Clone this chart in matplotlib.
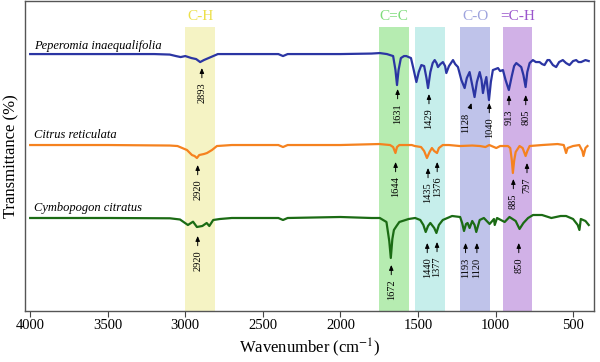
import numpy as np
import matplotlib
matplotlib.use("Agg")
import matplotlib.pyplot as plt

plt.rcParams['font.family'] = ['Liberation Serif', 'DejaVu Serif']
plt.rcParams['mathtext.fontset'] = 'stix'

"""Spectra (wavenumber in cm-1, transmittance in a.u.)"""
blue_wn = [4000, 3500, 3200, 3100, 3060, 3030, 3000, 2960, 2930, 2904, 2880, 2850, 2820, 2790, 2700,
           2400, 2370, 2340, 2000, 1800, 1746, 1700, 1660, 1645, 1635, 1625, 1610, 1590, 1575, 1545,
           1530, 1510, 1495, 1478, 1460, 1445, 1435, 1420, 1405, 1392, 1380, 1371, 1355, 1339, 1325,
           1317, 1300, 1274, 1260, 1242, 1220, 1199, 1185, 1167, 1150, 1135, 1120, 1102, 1090, 1081,
           1070, 1059, 1050, 1042, 1030, 1017, 1000, 984, 970, 952, 935, 914, 895, 880, 866,
           850, 834, 820, 806, 795, 780, 759, 740, 716, 700, 684, 665, 652, 630, 609,
           590, 566, 545, 523, 500, 480, 465, 448, 420, 399]
blue_t = [257, 257, 257, 256.5, 255, 254, 255, 253, 252, 249, 251, 253, 255, 257, 257,
          257, 255, 257, 257, 257.5, 258, 257, 255, 241, 226, 241, 253, 255, 255, 253,
          243, 229, 239, 246, 245, 233, 223, 239, 248, 251, 248, 244, 247, 249, 245,
          238, 245, 251, 247, 244, 231, 223, 233, 239, 226, 214, 229, 239, 231, 218,
          227, 234, 221, 211, 229, 241, 242, 243, 240, 241, 231, 221, 235, 245, 248,
          246, 244, 236, 224, 239, 248, 251, 249, 249, 247, 246, 251, 251, 246, 244,
          249, 251, 248, 246, 250, 251, 249, 249, 251, 250]

orange_wn = [4000, 3500, 3100, 3050, 2989, 2957, 2940, 2925, 2910, 2880, 2860, 2828, 2796, 2700,
             2400, 2370, 2340, 2000, 1750, 1680, 1660, 1645, 1635, 1620, 1540, 1520, 1480, 1460,
             1442, 1425, 1410, 1395, 1377, 1365, 1340, 1300, 1230, 1150, 1100, 1065, 1040, 995,
             970, 920, 905, 895, 888, 880, 870, 845, 825, 806, 795, 780, 700, 600,
             560, 545, 535, 500, 460, 440, 433, 420, 407]
orange_t = [166, 166, 165.5, 165, 161, 156, 155, 153, 156, 157, 158, 161, 165, 166,
            166, 164, 166, 166, 167, 166, 164, 158, 164, 166, 166, 165, 164, 160,
            153, 159, 163, 160, 158, 163, 166, 166, 165, 165.5, 165, 164, 166, 163,
            165, 165, 163, 151, 138, 150, 159, 165, 163, 155, 160, 165, 166, 167,
            166, 158, 163, 165, 166, 160, 155, 163, 165]

green_wn = [4000, 3500, 3099, 3034, 2983, 2950, 2925, 2890, 2862, 2845, 2820, 2777, 2700,
            2400, 2370, 2340, 2000, 1800, 1746, 1703, 1685, 1675, 1665, 1655, 1638, 1620, 1560,
            1518, 1485, 1465, 1450, 1435, 1420, 1405, 1395, 1381, 1365, 1340, 1280, 1228, 1215,
            1203, 1190, 1180, 1167, 1150, 1135, 1124, 1102, 1075, 1038, 1010, 1005, 990, 941,
            910, 870, 845, 820, 790, 758, 700, 640, 580, 545, 500, 470, 459, 450, 420, 399]
green_t = [93, 93, 92.7, 91.5, 86, 89.3, 84, 85, 88, 85, 91, 92, 93,
           93, 91, 93, 94, 93, 93, 89, 70, 53, 72, 81, 85, 89, 92,
           93, 91, 86, 79, 85, 88, 85, 83, 78, 86, 91, 95, 94, 88,
           80, 87, 88, 83, 90, 86, 79, 91, 93, 87, 92, 86, 93, 89,
           94, 90, 82, 88, 93, 96, 96, 93, 95, 95, 92, 86, 81, 92, 90, 86]

species = ['Peperomia inaequalifolia', 'Citrus reticulata', 'Cymbopogon citratus']
colors = ['#2b35a3', '#f5821f', '#1b6b14']

"""Functional group bands"""
band_names = ['C-H', 'C=C', '', 'C-O', '=C-H']
band_lo = [2810, 1557, 1325, 1035, 765]
band_hi = [3000, 1750, 1520, 1228, 950]
band_colors = ['#f5f3c4', '#b6ecb1', '#c6eeeb', '#bfc3ea', '#d1b1e7']
band_text_colors = ['#ece04a', '#7ddc7a', '#9ea3dd', '#9a55cc']

"""Peak labels: (label, tip height)"""
blue_peaks = [(2893, 243), (1631, 222), (1429, 217), (1040, 208), (913, 216), (805, 216)]
orange_peaks = [(2920, 146), (1644, 149), (1435, 143), (1376, 149), (885, 132), (797, 148)]
green_peaks = [(2920, 75), (1672, 46), (1440, 68), (1377, 69), (1193, 68), (1120, 68), (850, 68)]

fig = plt.figure(figsize=(6, 3.62), dpi=100)
ax = fig.add_axes([0.042, 0.141, 0.948, 0.856])

ytop = 284
for lo, hi, c in zip(band_lo, band_hi, band_colors):
    ax.axvspan(lo, hi, ymin=0, ymax=ytop / 310, color=c, lw=0, zorder=0)
names = [n for n in band_names if n]
lo_n = [l for l, n in zip(band_lo, band_names) if n]
hi_n = [h for h, n in zip(band_hi, band_names) if n]
for n, lo, hi, c in zip(names, lo_n, hi_n, band_text_colors):
    ax.text((lo + hi) / 2, 295, n, color=c, ha='center', va='center', fontsize=11)

for wn, t, c in zip([blue_wn, orange_wn, green_wn], [blue_t, orange_t, green_t], colors):
    ax.plot(wn, t, color=c, lw=1.6, zorder=3)

for name, y in zip(species, [265, 176, 103]):
    ax.text(3975, y, name, style='italic', fontsize=9, ha='left', va='center')

arrow = dict(arrowstyle='-|>,head_length=0.4,head_width=0.17', color='black', lw=0.7,
             shrinkA=1.5, shrinkB=0)
for peaks in [blue_peaks, orange_peaks, green_peaks]:
    for lab, tip in peaks:
        ax.annotate(str(lab), xy=(lab, tip), xytext=(0, -10.5), textcoords='offset points',
                    rotation=90, ha='center', va='top', fontsize=7.5, arrowprops=arrow, zorder=4)
# 1128 has a slanted arrow
ax.annotate('1128', xy=(1155, 208), xytext=(1195, 198), rotation=90, ha='center', va='top',
            fontsize=7.5, arrowprops=arrow, zorder=4)

ax.set_xlim(4032, 365)
ax.set_ylim(0, 310)
ax.set_yticks([])
ax.set_xticks(np.arange(4000, 499, -500))
ax.tick_params(axis='x', labelsize=10.5, length=4, color='#444444', pad=2)
for s in ax.spines.values():
    s.set_color('#555555')
    s.set_linewidth(1.0)
ax.set_xlabel(r'Wavenumber (cm$^{-1}$)', fontsize=12, labelpad=3)
ax.set_ylabel('Transmittance (%)', fontsize=12, labelpad=4)

fig.savefig('out.png', dpi=100)
